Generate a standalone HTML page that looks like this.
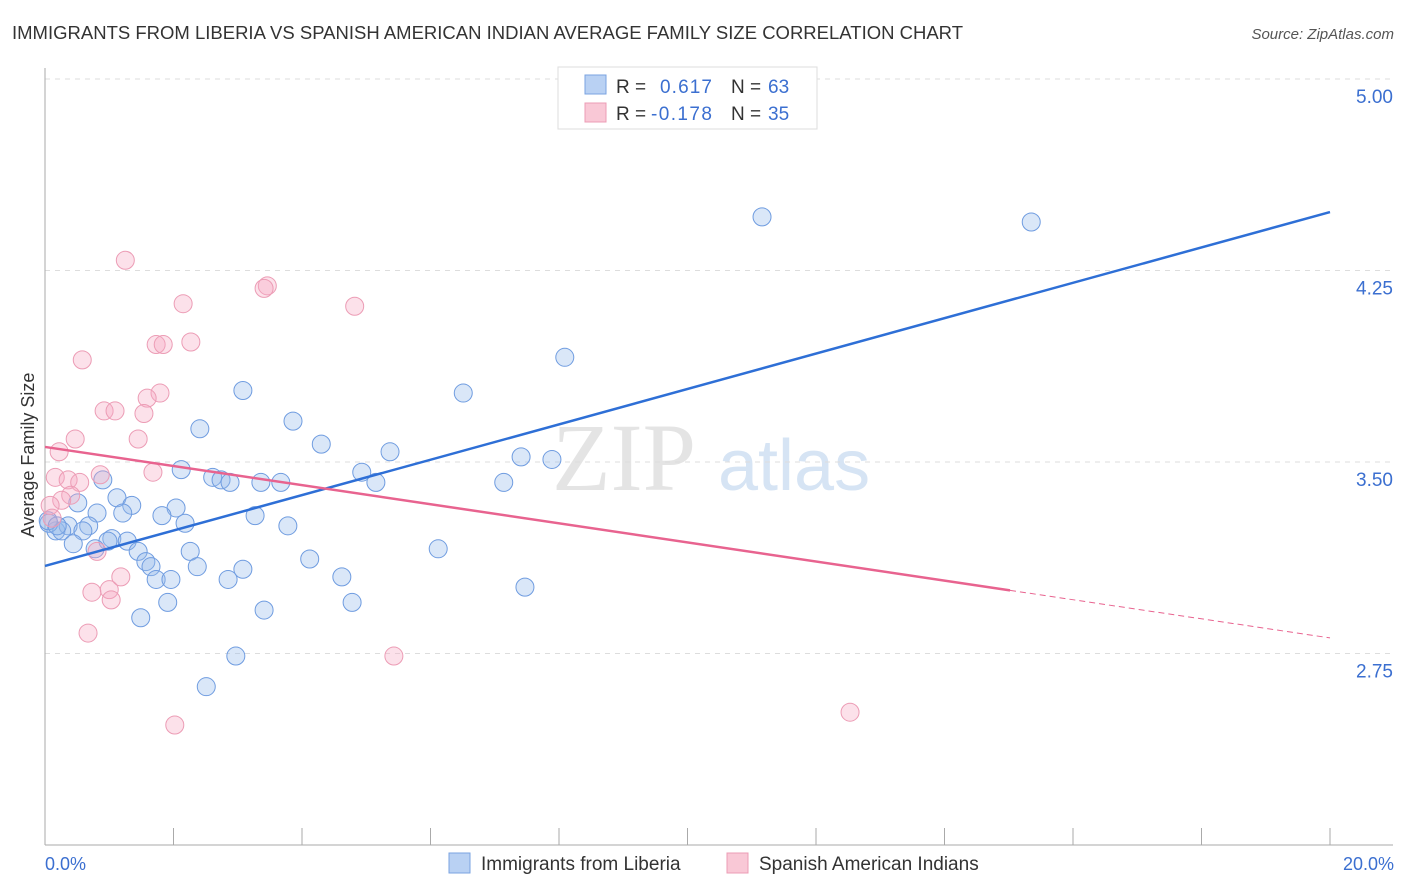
<!DOCTYPE html>
<html><head><meta charset="utf-8"><style>
body{margin:0;background:#fff;font-family:"Liberation Sans",sans-serif;}
svg{display:block}
</style></head><body>
<svg id="chart" width="1406" height="892">
<text x="12" y="39" font-size="18" fill="#333" textLength="951" lengthAdjust="spacingAndGlyphs">IMMIGRANTS FROM LIBERIA VS SPANISH AMERICAN INDIAN AVERAGE FAMILY SIZE CORRELATION CHART</text>
<text x="1394" y="39" font-size="15" fill="#555" font-style="italic" text-anchor="end">Source: ZipAtlas.com</text>
<g>
<text x="552" y="490" font-size="96" font-family="Liberation Serif,serif" fill="#e4e4e4">ZIP</text>
<text x="718" y="490" font-size="72" fill="#d6e4f4">atlas</text>
</g>
<g id="grid"></g>
<g id="axes"></g>
<g id="pts"></g>
<g id="lines"></g>
<text transform="translate(34,455) rotate(-90)" font-size="18" fill="#333" text-anchor="middle">Average Family Size</text>
<text x="45" y="870" font-size="18" fill="#3b6fd0">0.0%</text>
<text x="1394" y="870" font-size="18" fill="#3b6fd0" text-anchor="end">20.0%</text>
<g>
<rect x="558" y="67" width="259" height="62" fill="#fff" stroke="#ddd"/>
<rect x="585" y="75" width="21" height="19" fill="#b9d1f3" stroke="#7aa3e0"/>
<rect x="585" y="103" width="21" height="19" fill="#f9c8d6" stroke="#ec9cb5"/>
<text x="616" y="93" font-size="19" fill="#333">R =</text><text x="660" y="93" font-size="19" fill="#3b6fd0" textLength="52">0.617</text>
<text x="731" y="93" font-size="19" fill="#333">N =</text><text x="768" y="93" font-size="19" fill="#3b6fd0">63</text>
<text x="616" y="120" font-size="19" fill="#333">R =</text><text x="651" y="120" font-size="19" fill="#3b6fd0" textLength="61">-0.178</text>
<text x="731" y="120" font-size="19" fill="#333">N =</text><text x="768" y="120" font-size="19" fill="#3b6fd0">35</text>
</g>
<g>
<rect x="449" y="853" width="21" height="20" fill="#b9d1f3" stroke="#7aa3e0"/>
<text x="481" y="870" font-size="19" fill="#333">Immigrants from Liberia</text>
<rect x="727" y="853" width="21" height="20" fill="#f9c8d6" stroke="#ec9cb5"/>
<text x="759" y="870" font-size="19" fill="#333">Spanish American Indians</text>
</g>
</svg>
<script>
const yTicks=[5.00,4.25,3.50,2.75];
const yTickLabels=["5.00","4.25","3.50","2.75"];
const blueX=[11.16,15.35,8.09,3.08,6.51,2.41,3.86,4.30,5.37,7.41,7.89,2.12,4.93,2.61,2.74,2.88,3.36,3.67,5.15,7.14,0.90,1.12,0.51,1.35,2.04,0.81,1.21,1.82,3.27,2.18,3.78,0.68,0.17,0.36,0.26,0.59,0.06,1.04,0.98,1.28,0.44,2.26,1.45,4.12,6.12,1.57,1.65,2.37,3.08,1.73,1.96,4.62,2.85,7.47,1.91,4.78,3.41,1.49,2.97,2.51,0.05,0.78,0.19];
const blueY=[4.46,4.44,3.91,3.78,3.77,3.63,3.66,3.57,3.54,3.52,3.51,3.47,3.46,3.44,3.43,3.42,3.42,3.42,3.42,3.42,3.43,3.36,3.34,3.33,3.32,3.30,3.30,3.29,3.29,3.26,3.25,3.25,3.23,3.25,3.23,3.23,3.26,3.20,3.19,3.19,3.18,3.15,3.15,3.12,3.16,3.11,3.09,3.09,3.08,3.04,3.04,3.05,3.04,3.01,2.95,2.95,2.92,2.89,2.74,2.62,3.27,3.16,3.25];
const pinkX=[1.25,3.46,3.41,2.15,4.82,1.73,1.84,2.27,0.58,1.79,1.59,0.92,1.09,1.54,0.47,1.45,0.22,0.86,1.68,0.16,0.36,0.54,0.40,0.26,0.08,0.11,0.81,1.18,0.73,1.00,1.03,0.67,5.43,2.02,12.53];
const pinkY=[4.29,4.19,4.18,4.12,4.11,3.96,3.96,3.97,3.90,3.77,3.75,3.70,3.70,3.69,3.59,3.59,3.54,3.45,3.46,3.44,3.43,3.42,3.37,3.35,3.33,3.28,3.15,3.05,2.99,3.00,2.96,2.83,2.74,2.47,2.52];
const blueTrend=[3.093,4.479];
const pinkTrend=[3.559,2.811];
const pinkSolidEnd=15.02;
const NS="http://www.w3.org/2000/svg";
const X=p=>45+p*64.25, Y=v=>79+(5-v)*255.33;
function mk(t,a,parent){const e=document.createElementNS(NS,t);for(const k in a)e.setAttribute(k,a[k]);document.getElementById(parent).appendChild(e);return e;}
yTicks.forEach((v,i)=>{
 const g=mk('line',{x1:45,x2:1393,y1:Y(v),y2:Y(v),stroke:'#ddd','stroke-dasharray':'5,5'},'grid');
 
 
 const t=mk('text',{x:1393,y:Y(v)+24,'font-size':19,fill:'#3b6fd0','text-anchor':'end'},'grid');
 t.textContent=yTickLabels[i];
 
 
});
const ax=mk('line',{x1:45,x2:45,y1:68,y2:845,stroke:'#aaa'},'axes');


const bx=mk('line',{x1:45,x2:1393,y1:845,y2:845,stroke:'#aaa'},'axes');


for(let i=1;i<=10;i++){const t=mk('line',{x1:X(i*2),x2:X(i*2),y1:828,y2:845,stroke:'#aaa'},'axes');
 
 }
blueX.forEach((x,i)=>{const c=mk('circle',{cx:X(x),cy:Y(blueY[i]),r:9,fill:'rgba(150,185,235,0.35)',stroke:'#6f9ce0','stroke-width':1},'pts');
 
 });
pinkX.forEach((x,i)=>{const c=mk('circle',{cx:X(x),cy:Y(pinkY[i]),r:9,fill:'rgba(245,170,195,0.35)',stroke:'#ec9cb5','stroke-width':1},'pts');
 
 });
const bl=mk('line',{x1:X(0),y1:Y(blueTrend[0]),x2:X(20),y2:Y(blueTrend[1]),stroke:'#2e6fd6','stroke-width':2.5},'lines');


const pv=p=>pinkTrend[0]+(pinkTrend[1]-pinkTrend[0])*p/20;
const pl=mk('line',{x1:X(0),y1:Y(pv(0)),x2:X(pinkSolidEnd),y2:Y(pv(pinkSolidEnd)),stroke:'#e8638f','stroke-width':2.5},'lines');


const pd=mk('line',{x1:X(pinkSolidEnd),y1:Y(pv(pinkSolidEnd)),x2:X(20),y2:Y(pv(20)),stroke:'#e8638f','stroke-width':1,'stroke-dasharray':'6,4'},'lines');


</script>
</body></html>
